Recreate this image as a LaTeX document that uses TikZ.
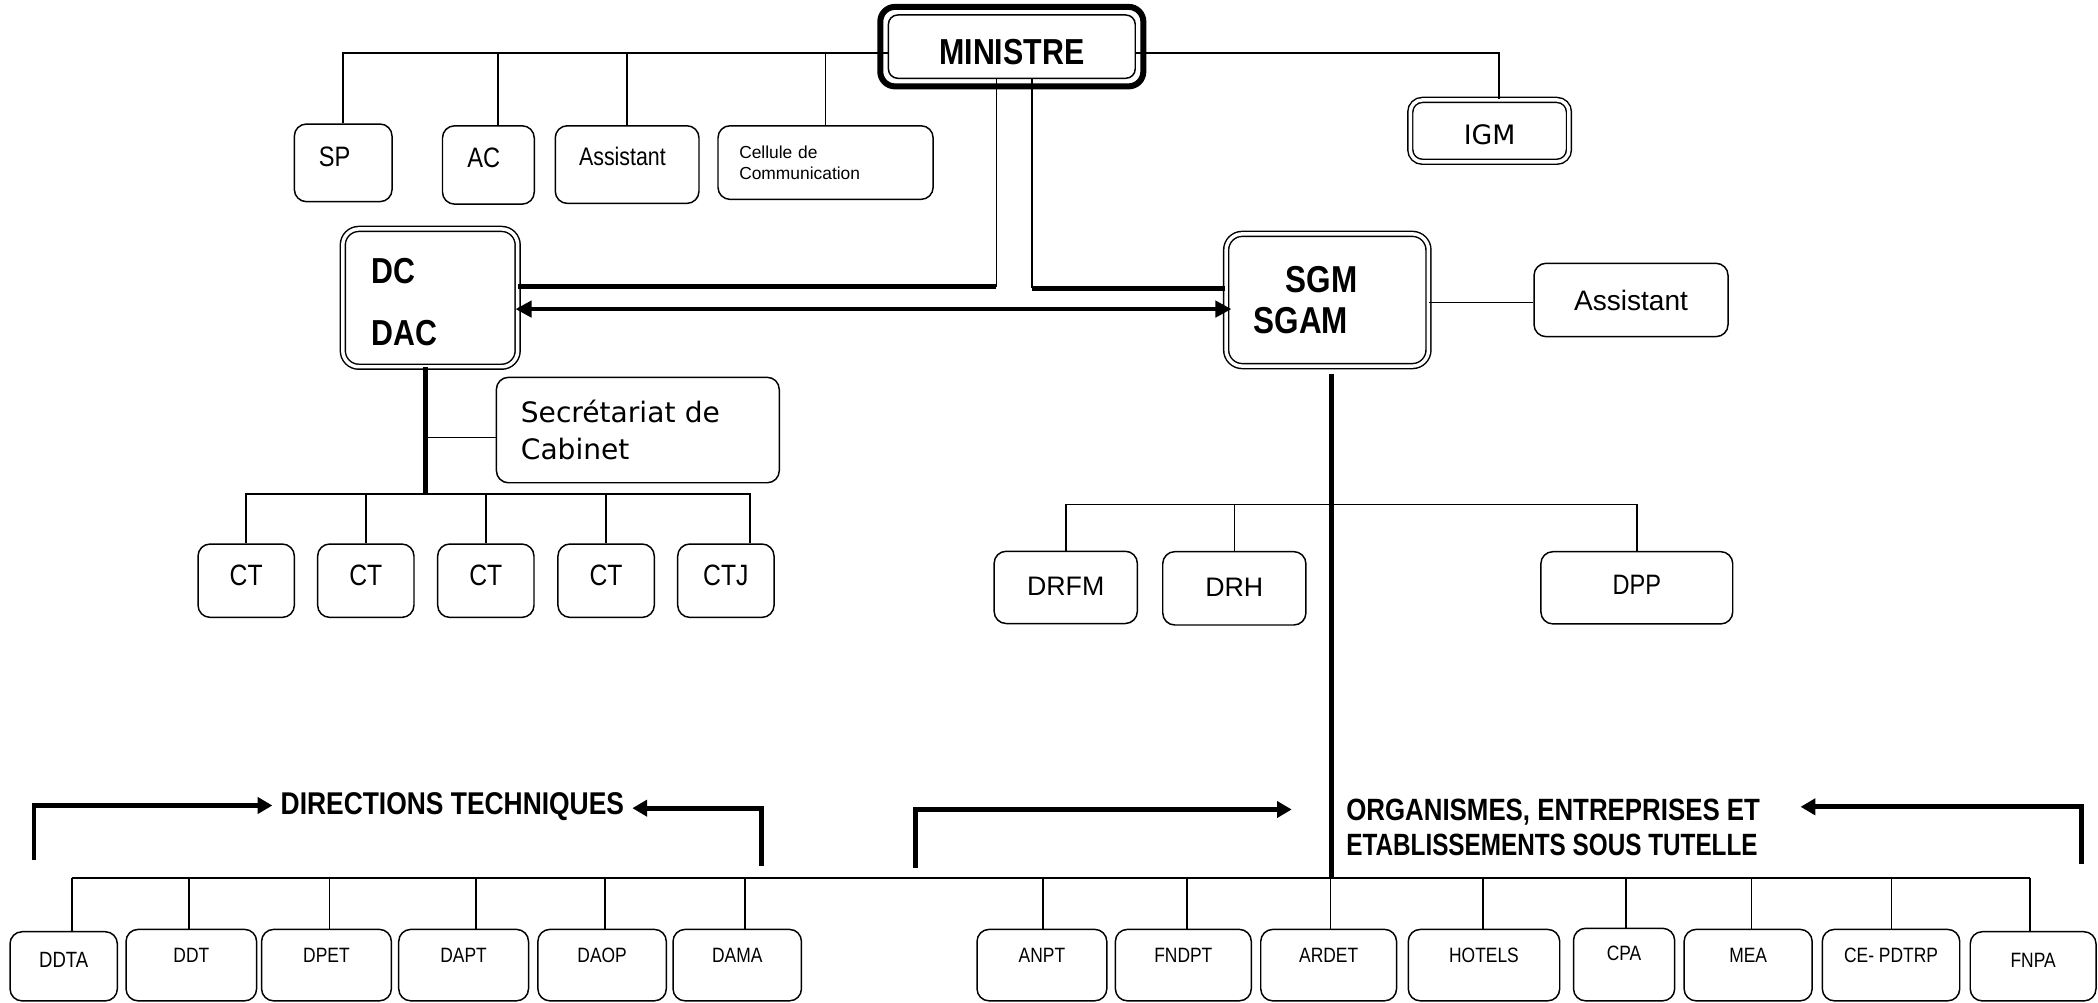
\documentclass[tikz,border=0pt]{standalone}
\usepackage{fontspec}
\setmainfont{Liberation Sans}
\newfontfamily\cnd{Liberation Sans}[FakeStretch=0.84]
\newfontfamily\dvs{DejaVu Sans}
\usetikzlibrary{arrows.meta,calc}
\newcommand\fsz[2]{\fontsize{#1}{#2}\selectfont}
\begin{document}
\begin{tikzpicture}[x=1pt,y=-1pt,
  box/.style={draw, line width=1.1pt, rounded corners=9pt, inner sep=0pt},
  dbox/.style={draw, line width=1.1pt, double=white, double distance=2.6pt, rounded corners=12pt, inner sep=0pt},
  cn/.style={line width=1.2pt},
  tk/.style={line width=3.5pt},
  arr/.style={line width=3.7pt, -{Triangle[length=11pt,width=12pt]}},
  darr/.style={line width=3.5pt, {Triangle[length=12pt,width=12pt]}-{Triangle[length=12pt,width=12pt]}},
  up/.style={text depth=#1},
  dn/.style={text height=#1},
  ctb/.style={box, minimum width=72pt, minimum height=54.8pt, font=\cnd\fsz{22}{26}, up=8.6pt},
  bot/.style={box, minimum height=53.4pt, font=\cnd\fsz{15.5}{18}, up=14.6pt},
]
\fill[white] (0,0) rectangle (1568,749);
\useasboundingbox (0,0) rectangle (1568,749);

% ---------- MINISTRE ----------
\node[draw, line width=1.1pt, rounded corners=7pt, minimum width=184.5pt, minimum height=47.3pt,
      inner sep=0pt, font=\cnd\bfseries\fsz{27}{32}, dn=27.6pt] (min) at (756.2,34.85) {MINISTRE};
\draw[line width=4.5pt, rounded corners=11pt]
  ($(min.south west)+(-5.5,5.5)$) rectangle ($(min.north east)+(5.5,-5.5)$);

% ---------- top row ----------
\node[box, minimum width=73pt, minimum height=58pt, font=\cnd\fsz{21}{25}, up=9.4pt] (sp) at (256.5,121.7) {SP\hspace*{13pt}};
\node[box, minimum width=68.6pt, minimum height=58.5pt, font=\cnd\fsz{21}{25}, up=10.6pt] (ac) at (365,123.3) {AC\hspace*{7pt}};
\node[box, minimum width=107.4pt, minimum height=58pt, font=\cnd\fsz{19}{23}, up=12pt] (as1) at (468.7,123) {Assistant\hspace*{7pt}};
\node[box, minimum width=160.8pt, minimum height=55pt, font=\fsz{13}{16}, text width=129pt, align=left, inner xsep=15.9pt] (cell) at (617,121.5) {Cellule de\\Communication};
\node[dbox, rounded corners=9pt, minimum width=118.6pt, minimum height=46.2pt, font=\dvs\fsz{20}{24}, dn=21pt] (igm) at (1113.3,97.8) {IGM};

\coordinate (tb) at (0,39.4);
\coordinate (acb) at ($(ac.north)+(7,0)$);
\coordinate (igmb) at ($(igm.north)+(7,0)$);
\draw[cn] (sp.north) -- (sp.north |- tb) -- (tb -| min.west);
\draw[cn] (acb) -- (acb |- tb);
\draw[cn] (as1.north) -- (as1.north |- tb);
\draw[cn] (cell.north) -- (cell.north |- tb);
\draw[cn] (tb -| min.east) -| (igmb);

% ---------- DC / SGM ----------
\node[dbox, minimum width=130.7pt, minimum height=103pt, text width=87.1pt, align=left, inner xsep=21.8pt,
      font=\cnd\bfseries\fsz{27}{46}, dn=25.3pt] (dc) at (321.55,222.6) {DC\\DAC};
\node[dbox, minimum width=151.2pt, minimum height=98.8pt, text width=110pt, align=left, inner xsep=20.6pt,
      font=\cnd\bfseries\fsz{28}{31.2}] (sgm) at (992,224.2) {\hspace*{24pt}SGM\\SGAM};
\node[box, minimum width=145pt, minimum height=54.8pt, font=\fsz{21}{25}] (as2) at (1219,224.2) {Assistant};

\coordinate (kL) at (744.7,214.2);
\coordinate (kR) at (771.3,215.5);
\draw[cn] (kL |- min.south) -- (kL);
\draw[tk] (kL) -- (kL -| dc.east);
\draw[cn] (kR |- min.south) -- (kR);
\draw[tk] (kR) -- (kR -| sgm.west);
\coordinate (da) at (0,231);
\draw[darr, shorten <=-2.2pt, shorten >=-4.5pt] (da -| dc.east) -- (da -| sgm.west);
\coordinate (asc) at (0,226.2);
\draw[cn] (asc -| sgm.east) -- (asc -| as2.west);

% ---------- cabinet ----------
\node[box, minimum width=211.4pt, minimum height=78.8pt, text width=174.8pt, align=left, inner xsep=18.3pt,
      font=\dvs\fsz{21}{27.3}] (sec) at (476.7,321.4) {Secrétariat de\\Cabinet};
\coordinate (dcv) at (318,370);
\draw[tk] (dcv |- dc.south) -- (dcv);
\coordinate (sb) at (0,326.9);
\draw[cn] (sb -| dcv) -- (sb -| sec.west);

\node[ctb] (ct1) at (184,434) {CT};
\node[ctb] (ct2) at (273.4,434) {CT};
\node[ctb] (ct3) at (363.1,434) {CT};
\node[ctb] (ct4) at (453,434) {CT};
\node[ctb] (ct5) at (542.5,434) {CTJ};
\coordinate (cb) at (0,369.2);
\coordinate (ctjb) at ($(ct5.north)+(18.2,0)$);
\draw[cn] (ct1.north) -- (ct1.north |- cb) -- (cb -| ctjb) -- (ctjb);
\foreach \n in {ct2,ct3,ct4} \draw[cn] (\n.north) -- (\n.north |- cb);

% ---------- SGM services ----------
\node[box, minimum width=107pt, minimum height=54pt, font=\fsz{20}{24}, up=2pt] (drfm) at (796.5,439) {DRFM};
\node[box, minimum width=107pt, minimum height=54.8pt, font=\fsz{20}{24}, up=2pt] (drh) at (922.5,439.7) {DRH};
\node[box, minimum width=143.4pt, minimum height=54pt, font=\cnd\fsz{21}{25}, up=4pt] (dpp) at (1223.3,439.3) {DPP};
\coordinate (db) at (0,377);
\draw[cn] (drfm.north) -- (drfm.north |- db) -- (db -| dpp.north) -- (dpp.north);
\draw[cn] (drh.north) -- (drh.north |- db);

\coordinate (sv) at (995.3,279.5);
\coordinate (bus) at (0,656.4);
\draw[tk] (sv) -- (sv |- bus);

% ---------- bottom row ----------
\node[bot, minimum width=80.2pt, minimum height=51.7pt, font=\cnd\fsz{16.5}{20}, up=9.6pt] (ddta) at (47.6,722.2) {DDTA};
\node[bot, minimum width=97.6pt] (ddt) at (143,721.3) {DDT};
\node[bot, minimum width=97pt] (dpet) at (244,721.3) {DPET};
\node[bot, minimum width=97pt] (dapt) at (346.5,721.3) {DAPT};
\node[bot, minimum width=96pt] (daop) at (450,721.3) {DAOP};
\node[bot, minimum width=96pt] (dama) at (551,721.3) {DAMA};
\node[bot, minimum width=97pt] (anpt) at (778.7,721.3) {ANPT};
\node[bot, minimum width=101.6pt] (fndpt) at (884.4,721.3) {FNDPT};
\node[bot, minimum width=101.5pt] (ardet) at (993,721.3) {ARDET};
\node[bot, minimum width=113.2pt] (hotels) at (1109.1,721.3) {HOTELS};
\node[bot, minimum width=75.6pt, minimum height=54.2pt, up=16.8pt] (cpa) at (1213.8,720.9) {CPA};
\node[bot, minimum width=95.7pt] (mea) at (1306.5,721.3) {MEA};
\node[bot, minimum width=102.7pt] (ce) at (1413.3,721.3) {CE- PDTRP};
\node[bot, minimum width=94pt, minimum height=51.7pt, up=9.6pt] (fnpa) at (1519.5,722.2) {FNPA};

\draw[cn] ($(ddta.north |- bus)+(6,0)$) -- ($(fnpa.north |- bus)+(-2.5,0)$);
\foreach \n/\o in {ddta/6, ddt/-1.7, dpet/2.3, dapt/9.2, daop/2.2, dama/5.7,
                   anpt/0.9, fndpt/2.6, ardet/1.4, hotels/-0.9, cpa/1.2, mea/2.5, ce/0.2, fnpa/-2.5}
  \draw[cn] ($(\n.north)+(\o,0)$) -- ($(\n.north |- bus)+(\o,0)$);

% ---------- group labels ----------
\node[font=\cnd\bfseries\fsz{23.5}{27}, inner sep=0pt] (dir) at (338.1,603) {DIRECTIONS TECHNIQUES};
\coordinate (b1) at (25.4,643);
\coordinate (b2) at (568.8,647);
\draw[arr] (b1) |- ($(dir.west)+(-6,-1)$);
\draw[arr] (b2) |- ($(dir.east)+(6,1)$);

\node[font=\cnd\bfseries\fsz{23}{26.2}, inner sep=0pt, align=left, anchor=west] (org) at (1006,618.5)
  {ORGANISMES, ENTREPRISES ET\\\scalebox{0.94}[1]{ETABLISSEMENTS SOUS TUTELLE}};
\coordinate (b3) at (683.9,649);
\coordinate (b3t) at (965.4,605);
\coordinate (b4) at (1555.8,645.7);
\coordinate (b4t) at (1345.7,603);
\draw[arr] (b3) |- (b3t);
\draw[arr] (b4) |- (b4t);
\end{tikzpicture}
\end{document}
